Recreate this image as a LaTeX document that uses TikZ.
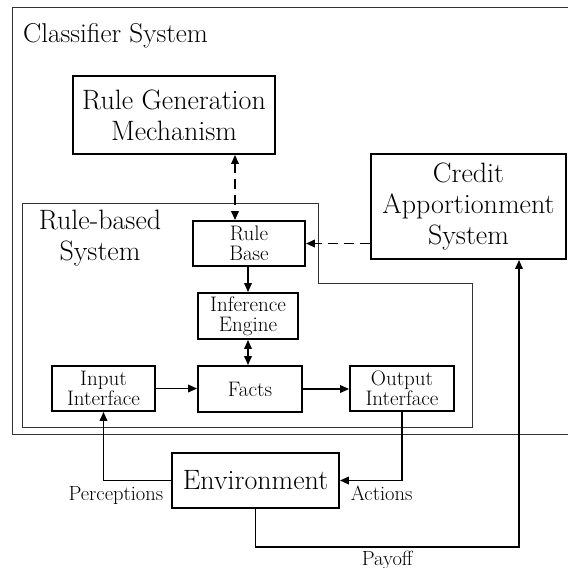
\documentclass[tikz,border=0pt]{standalone}
\usepackage{fontspec}
\setmainfont{Latin Modern Roman}
\usepackage{tikz}
\usetikzlibrary{arrows.meta,positioning,calc}

\begin{document}
\begin{tikzpicture}[x=1pt, y=-1pt, frame/.style={draw=black!80, line width=0.8pt},
big box/.style={rectangle,draw,line width=1.8pt,align=center,inner sep=0pt,font=\fontsize{28}{31}\selectfont},
small box/.style={rectangle,draw,line width=1.8pt,align=center,inner sep=0pt,font=\fontsize{21}{20}\selectfont},
lbl/.style={font=\fontsize{20.5}{20}\selectfont, inner sep=0pt},
link/.style={line width=1.8pt,-{Triangle[length=9pt,width=7.5pt]}},
both link/.style={line width=1.8pt,{Triangle[length=9pt,width=7.5pt]}-{Triangle[length=9pt,width=7.5pt]}},
dash link/.style={link,dash pattern=on 10pt off 6pt},
dash both/.style={both link,dash pattern=on 10pt off 6pt}]
\useasboundingbox (0,0) rectangle (568,568);
% frames
\draw[frame] (568,7) -- (12,7) -- (12,434) -- (568,434);
\draw[frame] (22,203) -- (318,203) -- (318,283) -- (472,283) -- (472,427) -- (22,427) -- cycle;
\node[anchor=base west, inner sep=0pt, font=\fontsize{27.2}{31}\selectfont] (cs) at (23,42) {Classifier System};
\node[align=center, inner sep=0pt, font=\fontsize{28}{31}\selectfont] (rbs) at (100,238) {Rule-based\\System};
\begin{scope}
\node[big box, minimum width=202, minimum height=78] (rgm) at (174,115) {Rule Generation\\Mechanism};
\node[big box, minimum width=195, minimum height=105] (cas) at (468.5,206.5) {Credit\\Apportionment\\System};
\node[small box, minimum width=112, minimum height=45] (rb) at (249,243.5) {Rule\\Base};
\node[small box, minimum width=100, minimum height=46] (ie) at (248,316) {Inference\\Engine};
\node[small box, minimum width=104, minimum height=46] (facts) at (250,389) {Facts};
\node[small box, minimum width=103, minimum height=45] (in) at (103.5,388.5) {Input\\Interface};
\node[small box, minimum width=104, minimum height=45] (out) at (402,388.5) {Output\\Interface};
\node[big box, minimum width=167, minimum height=55] (env) at (255.5,480.5) {Environment};
\end{scope}
\coordinate (gx) at (235,0);
\coordinate (pay) at (519,547);
\begin{scope}
\draw[dash both] (rgm.south -| gx) -- (rb.north -| gx);
\draw[dash link] (cas.west |- rb) -- (rb.east);
\draw[link] (rb.south -| ie) -- (ie.north);
\draw[both link] (ie.south) -- (ie.south |- facts.north);
\draw[link] (in.east) -- (in.east -| facts.west);
\draw[link] (facts.east) -- (facts.east -| out.west);
\draw[link] (env.west) node[lbl, anchor=north east, xshift=-7pt, yshift=-5pt] {Perceptions} -| (in.south);
\draw[link] (out.south) |- (env.east) node[lbl, anchor=north west, xshift=10pt, yshift=-5pt] {Actions};
\draw[link] (env.south) |- node[lbl, pos=0.75, below=3pt] {Payoff} (pay) -- (pay |- cas.south);
\end{scope}
\end{tikzpicture}
\end{document}
